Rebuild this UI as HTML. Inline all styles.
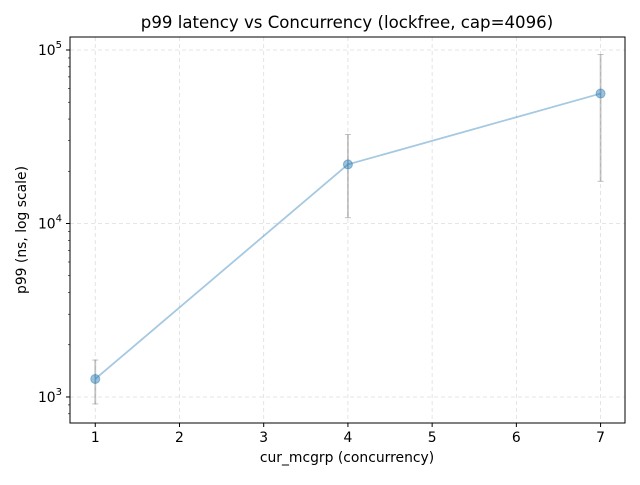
<!DOCTYPE html>
<html><head><meta charset="utf-8"><style>
body{margin:0;background:#fff}
text{font-family:"DejaVu Sans","Liberation Sans",sans-serif;fill:#000}
</style></head><body>
<svg id="chart" width="640" height="480" viewBox="0 0 640 480">
<text x="347" y="28" font-size="16.6" text-anchor="middle">p99 latency vs Concurrency (lockfree, cap=4096)</text>
<text x="347" y="462" font-size="13.9" text-anchor="middle">cur_mcgrp (concurrency)</text>
<text transform="translate(26,230) rotate(-90)" font-size="13.9" text-anchor="middle">p99 (ns, log scale)</text>
<g id="grid"></g><g id="ticks"></g><g id="marks"></g>
<rect x="70" y="37" width="555" height="386" fill="none" stroke="#000" stroke-width="1"/>
</svg>
<script>
const xs=[1,4,7];
const p99=[1270,21900,56100];
const errLow=[912,10800,17500];
const errHigh=[1633,32600,94200];
const xTicks=[1,2,3,4,5,6,7];
const yDecades=[3,4,5];
const L=70,R=625,T=37,B=423,xmin=0.7,xmax=7.29,lmin=2.85,lmax=5.075;
const sx=v=>L+(v-xmin)/(xmax-xmin)*(R-L);
const sy=v=>B-(Math.log10(v)-lmin)/(lmax-lmin)*(B-T);
const NS="http://www.w3.org/2000/svg";
function mk(t,a,p){const e=document.createElementNS(NS,t);for(const k in a)e.setAttribute(k,a[k]);p.appendChild(e);return e;}
const g=document.getElementById('grid'),tk=document.getElementById('ticks'),m=document.getElementById('marks');
xTicks.forEach(v=>{const x=sx(v);
let l=mk('line',{x1:x,x2:x,y1:T,y2:B,stroke:'#ddd','stroke-dasharray':'4,3','stroke-width':0.8},g);


mk('line',{x1:x,x2:x,y1:B,y2:B+4,stroke:'#000'},tk);
let t=mk('text',{x:x,y:B+19,'font-size':13.9,'text-anchor':'middle'},tk);t.textContent=v;

});
yDecades.forEach(d=>{const y=sy(Math.pow(10,d));
let l=mk('line',{x1:L,x2:R,y1:y,y2:y,stroke:'#ddd','stroke-dasharray':'4,3','stroke-width':0.8},g);


mk('line',{x1:L-4,x2:L,y1:y,y2:y,stroke:'#000'},tk);
let t=mk('text',{x:L-8,y:y+5,'font-size':13.9,'text-anchor':'end'},tk);
t.innerHTML='10<tspan dy="-7" font-size="10">'+d+'</tspan>';

});
for(let d=2;d<=5;d++)for(let k=2;k<=9;k++){const v=k*Math.pow(10,d);const lv=Math.log10(v);if(lv<lmin||lv>lmax)continue;
const y=sy(v);mk('line',{x1:L-2,x2:L,y1:y,y2:y,stroke:'#000','stroke-width':0.6},tk);}
const pts=xs.map((x,i)=>sx(x)+','+sy(p99[i])).join(' ');
let pl=mk('polyline',{points:pts,fill:'none',stroke:'#1f77b4','stroke-opacity':0.4,'stroke-width':1.8},m);


xs.forEach((x,i)=>{const cx=sx(x),y1=sy(errHigh[i]),y2=sy(errLow[i]);
let e=mk('g',{stroke:'#888','stroke-opacity':0.5,'stroke-width':1.8},m);


mk('line',{x1:cx,x2:cx,y1:y1,y2:y2},e);
mk('line',{x1:cx-3,x2:cx+3,y1:y1,y2:y1,'stroke-width':1},e);
mk('line',{x1:cx-3,x2:cx+3,y1:y2,y2:y2,'stroke-width':1},e);
let c=mk('circle',{cx:cx,cy:sy(p99[i]),r:4.5,fill:'#1f77b4','fill-opacity':0.45,stroke:'#1f77b4','stroke-opacity':0.45},m);

});
</script>
</body></html>
